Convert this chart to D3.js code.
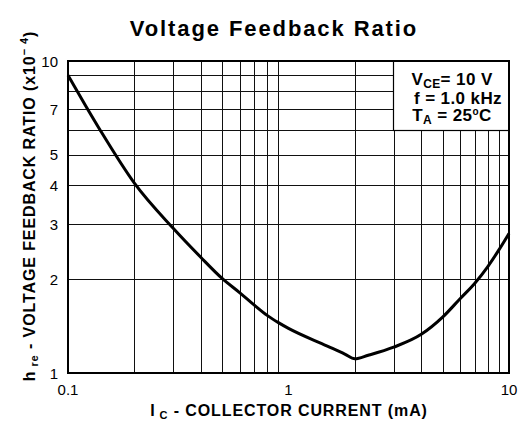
<!DOCTYPE html>
<html>
<head>
<meta charset="utf-8">
<script src="https://cdn.jsdelivr.net/npm/d3@7"></script>
<style>
  body { margin: 0; background: #fff; }
  text { font-family: "Liberation Sans", Arial, sans-serif; fill: #000; }
</style>
</head>
<body>
<script>
const w = 526;
const h = 428;
const plotL = 68, plotR = 509, plotT = 61, plotB = 373;

// Ic (mA) and hre (x10^-4)
const current = [0.1, 0.12, 0.14, 0.2, 0.3, 0.4, 0.5, 0.6, 0.7, 0.8, 0.9, 1, 1.5, 1.8, 2, 2.3, 3, 4, 5, 6, 7, 8, 9, 10];
const hre = [9.0, 7.2, 6.0, 4.06, 2.91, 2.35, 2.01, 1.81, 1.65, 1.53, 1.45, 1.39, 1.22, 1.15, 1.11, 1.14, 1.21, 1.33, 1.51, 1.73, 1.94, 2.19, 2.48, 2.80];

const xTicks = [0.1, 1, 10];
const yTicks = [1, 2, 3, 4, 5, 7, 10];
const xGrid = [0.2, 0.3, 0.4, 0.5, 0.6, 0.7, 0.8, 0.9, 2, 3, 4, 5, 6, 7, 8, 9];
const yGrid = [2, 3, 4, 5, 6, 7, 8, 9];

const svg = d3.select("body")
  .append("svg")
  .attr("width", w)
  .attr("height", h);

const xScale = d3.scaleLog().domain([0.1, 10]).range([plotL, plotR]);
const yScale = d3.scaleLog().domain([1, 10]).range([plotB, plotT]);

// grid
svg.append("g")
  .selectAll("line")
  .data(xGrid)
  .enter()
  .append("line")
  .attr("x1", d => Math.round(xScale(d)) + 0.5)
  .attr("x2", d => Math.round(xScale(d)) + 0.5)
  .attr("y1", plotT)
  .attr("y2", plotB)
  .style("stroke", "#111")
  .style("stroke-width", 1);

svg.append("g")
  .selectAll("line")
  .data(yGrid)
  .enter()
  .append("line")
  .attr("x1", plotL)
  .attr("x2", plotR)
  .attr("y1", d => Math.round(yScale(d)) + 0.5)
  .attr("y2", d => Math.round(yScale(d)) + 0.5)
  .style("stroke", "#111")
  .style("stroke-width", 1);

// curve
const line = d3.line()
  .x((d, i) => xScale(current[i]))
  .y(d => yScale(d))
  .curve(d3.curveMonotoneX);

svg.append("path")
  .datum(hre)
  .attr("d", line)
  .style("fill", "none")
  .style("stroke", "#000")
  .style("stroke-width", 3);

// condition box
svg.append("rect")
  .attr("x", 393.5)
  .attr("y", plotT)
  .attr("width", plotR - 393.5)
  .attr("height", 130.5 - plotT)
  .style("fill", "#fff")
  .style("stroke", "#000")
  .style("stroke-width", 1.2);

const box = svg.append("g")
  .attr("transform", "translate(452,0)")
  .style("font-size", "17px")
  .style("font-weight", "bold")
  .style("letter-spacing", "0.4px")
  .attr("text-anchor", "middle");

const l1 = box.append("text").attr("y", 85);
l1.append("tspan").text("V");
l1.append("tspan").attr("dy", 3).style("font-size", "12px").text("CE");
l1.append("tspan").attr("dy", -3).text("= 10 V");

box.append("text").attr("x", 6).attr("y", 104).text("f = 1.0 kHz");

const l3 = box.append("text").attr("y", 121);
l3.append("tspan").text("T");
l3.append("tspan").attr("dy", 3).style("font-size", "12px").text("A");
l3.append("tspan").attr("dy", -3).text(" = 25");
l3.append("tspan").attr("dy", -6).style("font-size", "10px").text("o");
l3.append("tspan").attr("dy", 6).text("C");

// frame
svg.append("rect")
  .attr("x", plotL)
  .attr("y", plotT)
  .attr("width", plotR - plotL)
  .attr("height", plotB - plotT)
  .style("fill", "none")
  .style("stroke", "#000")
  .style("stroke-width", 2);

// tick labels
svg.append("g")
  .selectAll("text")
  .data(yTicks)
  .enter()
  .append("text")
  .attr("x", 58)
  .attr("y", d => yScale(d) + 5.5)
  .attr("text-anchor", "end")
  .style("font-size", "15px")
  .text(d => d);

svg.append("g")
  .selectAll("text")
  .data(xTicks)
  .enter()
  .append("text")
  .attr("x", d => xScale(d))
  .attr("y", 395)
  .attr("text-anchor", "middle")
  .style("font-size", "15px")
  .text(d => d);

// titles
svg.append("text")
  .attr("x", 274)
  .attr("y", 36)
  .attr("text-anchor", "middle")
  .style("font-size", "22px")
  .style("font-weight", "bold")
  .style("letter-spacing", "1.9px")
  .text("Voltage Feedback Ratio");

const xt = svg.append("text")
  .attr("x", 289)
  .attr("y", 416)
  .attr("text-anchor", "middle")
  .style("font-size", "16px")
  .style("font-weight", "bold")
  .style("letter-spacing", "0.9px");
xt.append("tspan").text("I");
xt.append("tspan").attr("dy", 3).style("font-size", "11px").text(" C");
xt.append("tspan").attr("dy", -3).text(" - COLLECTOR CURRENT (mA)");

const yt = svg.append("text")
  .attr("transform", "translate(35,206) rotate(-90)")
  .attr("text-anchor", "middle")
  .style("font-size", "16px")
  .style("font-weight", "bold")
  .style("letter-spacing", "0.9px");
yt.append("tspan").text("h");
yt.append("tspan").attr("dy", 3).style("font-size", "11px").text(" re");
yt.append("tspan").attr("dy", -3).text(" - VOLTAGE FEEDBACK RATIO (x10");
yt.append("tspan").attr("dy", -7).style("font-size", "11px").text("\u2212 4");
yt.append("tspan").attr("dy", 7).text(")");
</script>
</body>
</html>
